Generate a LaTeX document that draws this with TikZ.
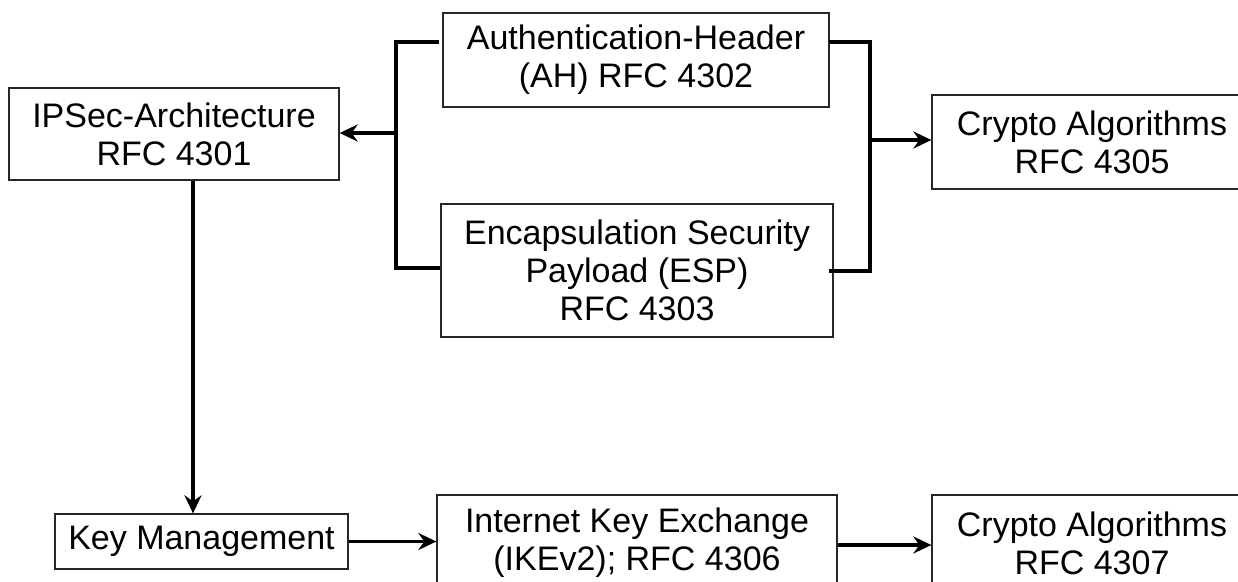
\documentclass[tikz,border=0pt]{standalone}
\usepackage{fontspec}
\setmainfont{Liberation Sans}
\usetikzlibrary{arrows.meta}
\begin{document}
\begin{tikzpicture}[x=1pt,y=-1pt,
  box/.style={draw=black!85, line width=1.3pt, fill=white, inner sep=0pt,
    align=center, font=\fontsize{34}{38}\selectfont},
  link/.style={line width=3.4pt, line cap=butt},
  arr/.style={link, -{Stealth[length=18pt,width=17pt,inset=6pt]}}]
\useasboundingbox (0,0) rectangle (1238,581);

% boxes
\node[box, minimum width=330pt, minimum height=92pt]  (ipsec) at (174,134)   {IPSec-Architecture\\RFC 4301};
\node[box, minimum width=386pt, minimum height=94pt]  (ah)    at (636,60)    {Authentication-Header\\(AH) RFC 4302};
\node[box, minimum width=392pt, minimum height=133pt] (esp)   at (637,270.5) {Encapsulation Security\\Payload (ESP)\\RFC 4303};
\node[box, minimum width=320pt, minimum height=94pt]  (c1)    at (1092,142)  {Crypto Algorithms\\RFC 4305};
\node[box, minimum width=293pt, minimum height=55pt]  (km)    at (201.5,541.5) {Key Management};
\node[box, minimum width=400pt, minimum height=96pt]  (ike)   at (637,543)   {Internet Key Exchange\\(IKEv2); RFC 4306};
\node[box, minimum width=320pt, minimum height=96pt]  (c2)    at (1092,543)  {Crypto Algorithms\\RFC 4307};

% bracket joining AH and ESP on the left
\coordinate (lt) at (396,42);
\coordinate (lb) at (396,268);
\coordinate (lm) at (396,133);
\draw[link, line join=miter] ([xshift=-3pt]ah.west |- lt) -- (lt) -- (lb) -- (esp.west |- lb);
\draw[arr] (lm) -- (ipsec.east |- lm);

% bracket joining AH and ESP on the right
\coordinate (rt) at (870,42);
\coordinate (rb) at (870,271);
\coordinate (rm) at (870,140);
\draw[link, line join=miter] ([xshift=-1pt]ah.east |- rt) -- (rt) -- (rb) -- ([xshift=-5pt]esp.east |- rb);
\draw[arr] (rm) -- (c1.west |- rm);

% lower chain
\draw[arr] ([xshift=19pt]ipsec.south) -- ([xshift=19pt]ipsec.south |- km.north);
\draw[arr] (km.east) -- (ike.west |- km.east);
\draw[arr] (ike.east |- 0,545) -- (c2.west |- 0,545);
\end{tikzpicture}
\end{document}
